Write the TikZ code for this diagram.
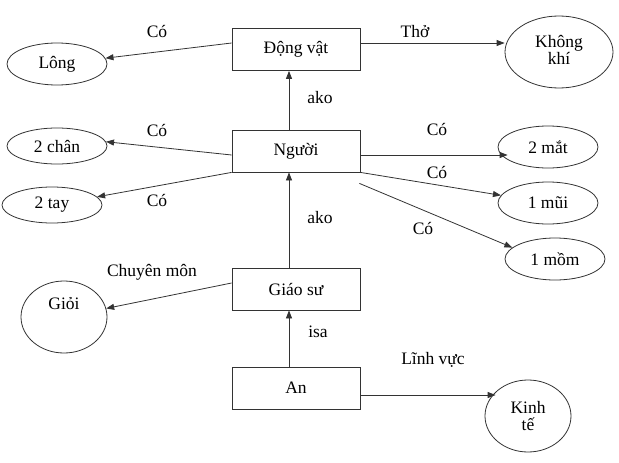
\documentclass[tikz,border=0pt]{standalone}
\usepackage{fontspec}
\setmainfont{Liberation Serif}
\newfontfamily\tms{Liberation Serif}
\usetikzlibrary{shapes.geometric,arrows.meta}
\begin{document}
\begin{tikzpicture}[x=1pt,y=-1pt,
  every node/.style={font=\tms\fontsize{17.5}{19}\selectfont},
  box/.style={draw=black!80,line width=0.8pt,minimum width=128pt,minimum height=42pt,inner sep=0pt},
  oval/.style={draw=black!80,line width=0.8pt,ellipse,inner sep=0pt,align=center},
  lbl/.style={inner sep=0pt},
  arr/.style={draw=black!80,line width=0.8pt,-{Triangle[length=8pt,width=6pt]}}]
\useasboundingbox (0,0) rectangle (619,463);
% boxes
\node[box] (dv) at (296,49.5) {Động vật};
\node[box] (ng) at (296,151) {Người};
\node[box] (gs) at (296,289) {Giáo sư};
\node[box] (an) at (296,388) {An};
% ellipses
\node[oval,minimum width=100pt,minimum height=42pt] (long) at (57,64) {Lông};
\node[oval,minimum width=108pt,minimum height=72pt] (kk) at (559,52) {\\[-12pt]Không\\[-2pt]khí};
\node[oval,minimum width=100pt,minimum height=36pt] (chan) at (57,146) {2 chân};
\node[oval,minimum width=100pt,minimum height=36pt] (tay) at (52,205) {2 tay};
\node[oval,minimum width=100pt,minimum height=42pt] (mat) at (548,147) {2 mắt};
\node[oval,minimum width=100pt,minimum height=42pt] (mui) at (548,203) {1 mũi};
\node[oval,minimum width=100pt,minimum height=42pt] (mom) at (555,259) {1 mồm};
\node[oval,minimum width=86pt,minimum height=72pt] (gioi) at (64,317) {Giỏi\\[8pt]};
\node[oval,minimum width=86pt,minimum height=72pt] (kt) at (528,416) {Kinh\\[-2pt]tế};
% connectors
\draw[arr] ([yshift=6.5pt]dv.west) -- (long);
\draw[arr] ([yshift=6.5pt]dv.east) -- ([yshift=6.5pt]dv.east -| kk.west);
\draw[arr] ([xshift=-7pt]ng.north) -- ([xshift=-7pt]dv.south);
\draw[arr] ([yshift=-4pt]ng.west) -- (chan.5);
\draw[arr] (ng.south west) -- (tay);
\draw[arr] ([yshift=-4pt]ng.east) -- ([xshift=10pt,yshift=-4pt]ng.east -| mat.west);
\draw[arr] (ng.south east) -- (mui);
\coordinate (ngb) at ([xshift=-1pt,yshift=-11pt]ng.south east);
\draw[arr] (ngb) -- (mom.165);
\draw[arr] ([xshift=-7pt]gs.north) -- ([xshift=-7pt]ng.south);
\draw[arr] ([yshift=6pt]gs.west) -- (gioi);
\draw[arr] ([xshift=-7pt]an.north) -- ([xshift=-7pt]gs.south);
\draw[arr] ([yshift=-7pt]an.east) -- ([xshift=11pt,yshift=-7pt]an.east -| kt.west);
% labels
\node[lbl] (l1) at (157,32) {Có};
\node[lbl] (l2) at (415,32) {Thở};
\node[lbl] (l3) at (320,98) {ako};
\node[lbl] (l4) at (157,131) {Có};
\node[lbl] (l5) at (157,200) {Có};
\node[lbl] (l6) at (437,130) {Có};
\node[lbl] (l7) at (437,172) {Có};
\node[lbl] (l8) at (423,228) {Có};
\node[lbl] (l9) at (320,218) {ako};
\node[lbl] (l10) at (152,272) {Chuyên môn};
\node[lbl] (l11) at (318,332) {isa};
\node[lbl] (l12) at (433,360) {Lĩnh vực};
\end{tikzpicture}
\end{document}
